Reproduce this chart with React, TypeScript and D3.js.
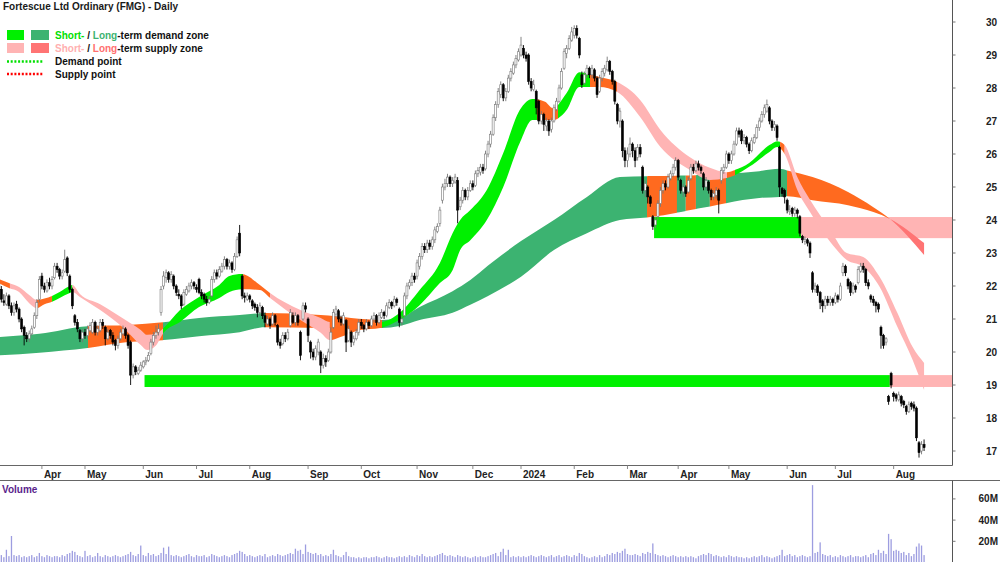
import React from "react";
import * as d3 from "d3";

// Daily candles [open, high, low, close], Mar 2023 -> Aug 2024
const candles: [number, number, number, number][] = [
  [22.05,22.15,21.8,21.9],[21.9,22.0,21.5,21.6],[21.55,21.75,21.4,21.5],[21.45,21.8,21.4,21.7],[21.7,21.75,21.3,21.4],
  [21.4,21.5,21.1,21.2],[21.2,21.5,21.1,21.4],[21.45,21.55,21.2,21.3],[21.3,21.35,20.9,21.0],[21.0,21.05,20.6,20.7],
  [20.75,20.8,20.2,20.5],[20.5,20.6,20.3,20.4],[20.4,20.65,20.3,20.55],[20.55,20.8,20.5,20.7],[20.75,21.2,20.7,21.1],
  [21.1,21.6,21.0,21.5],[21.6,22.3,21.5,22.2],[22.3,22.4,21.9,22.0],[22.0,22.1,21.8,21.9],[21.85,22.2,21.8,22.1],
  [22.1,22.25,21.9,22.0],[22.0,22.3,21.9,22.2],[22.25,22.7,22.2,22.6],[22.6,22.7,22.4,22.5],[22.5,22.55,22.2,22.3],
  [22.3,22.5,22.2,22.4],[22.45,23.1,22.4,22.8],[22.85,22.9,22.3,22.4],[22.3,22.35,21.8,21.9],[21.9,21.95,21.3,21.4],
  [21.1,21.15,20.8,20.9],[20.9,21.0,20.6,20.7],[20.65,20.7,20.3,20.4],[20.4,20.7,20.3,20.6],[20.6,20.7,20.4,20.5],
  [20.5,20.8,20.4,20.7],[20.65,20.9,20.6,20.8],[20.6,21.0,20.55,20.9],[20.9,20.95,20.5,20.6],[20.6,20.8,20.5,20.7],
  [20.65,21.0,20.6,20.9],[20.9,21.0,20.7,20.8],[20.75,20.8,20.2,20.4],[20.4,20.7,20.35,20.6],[20.65,20.7,20.4,20.5],
  [20.5,20.6,20.2,20.3],[20.35,20.4,20.05,20.2],[20.2,20.5,20.1,20.4],[20.4,20.7,20.35,20.6],[20.55,20.8,20.5,20.7],
  [20.7,20.75,20.4,20.5],[20.5,20.55,20.1,20.2],[20.3,20.35,19.0,19.3],[19.3,19.65,19.2,19.55],[19.55,19.6,19.3,19.4],
  [19.35,19.55,19.3,19.45],[19.45,19.7,19.4,19.6],[19.55,19.75,19.5,19.7],[19.7,19.85,19.6,19.75],[19.75,20.0,19.7,19.9],
  [19.95,20.4,19.9,20.3],[20.3,20.6,20.2,20.5],[20.5,20.8,20.4,20.6],[20.6,20.85,20.5,20.7],[21.2,22.0,21.1,21.9],
  [22.0,22.45,21.9,22.3],[22.25,22.5,22.1,22.4],[22.4,22.45,22.1,22.2],[22.2,22.45,22.1,22.35],[22.3,22.35,21.9,22.0],
  [22.0,22.05,21.7,21.8],[21.75,21.9,21.6,21.7],[21.7,21.75,21.3,21.4],[21.45,21.9,21.4,21.8],[21.75,22.0,21.7,21.9],
  [21.85,22.1,21.8,22.0],[22.0,22.2,21.9,22.1],[22.1,22.15,21.9,22.0],[21.95,22.05,21.8,21.9],[22.2,22.25,21.75,21.8],
  [21.8,21.9,21.6,21.7],[21.75,21.8,21.5,21.6],[21.6,21.7,21.4,21.5],[21.5,21.7,21.45,21.6],[21.7,22.3,21.65,22.2],
  [22.2,22.5,22.1,22.4],[22.4,22.5,22.2,22.3],[22.3,22.6,22.25,22.5],[22.45,22.7,22.4,22.6],[22.6,22.9,22.5,22.8],
  [22.8,22.85,22.5,22.6],[22.6,22.8,22.5,22.7],[22.7,22.75,22.4,22.5],[22.5,23.0,22.45,22.9],[22.9,23.5,22.85,23.4],
  [23.6,23.85,22.9,23.0],[22.3,22.35,21.6,21.7],[21.7,21.8,21.5,21.65],[21.6,21.8,21.55,21.7],[21.7,21.75,21.5,21.6],
  [21.55,21.6,21.3,21.4],[21.45,21.5,21.25,21.35],[21.35,21.45,21.05,21.2],[21.2,21.5,21.1,21.4],[21.35,21.4,21.0,21.1],
  [21.1,21.2,20.75,20.9],[20.85,21.1,20.8,21.0],[21.0,21.05,20.7,20.8],[20.85,21.2,20.8,21.1],[21.1,21.15,20.8,20.9],
  [20.8,20.85,20.2,20.3],[20.3,20.4,20.1,20.2],[20.25,20.6,20.2,20.5],[20.5,20.6,20.3,20.4],[20.4,20.7,20.35,20.6],
  [20.8,21.3,20.75,21.2],[21.1,21.2,20.85,20.9],[20.9,21.2,20.8,21.1],[21.1,21.15,20.8,20.9],[20.6,20.65,19.75,19.9],
  [21.0,21.5,20.95,21.4],[21.4,21.5,21.2,21.3],[21.0,21.05,20.3,20.5],[20.3,20.35,19.8,20.0],[20.0,20.1,19.75,19.85],
  [19.85,20.2,19.75,20.1],[20.0,20.4,19.9,20.3],[20.0,20.05,19.36,19.6],[19.6,19.95,19.5,19.8],[19.8,19.9,19.55,19.7],
  [19.75,20.1,19.7,20.0],[20.0,20.75,19.95,20.6],[20.75,21.3,20.7,21.2],[21.15,21.4,21.05,21.3],[21.25,21.3,20.9,21.0],
  [21.0,21.1,20.8,20.9],[20.85,21.2,20.8,21.1],[20.95,21.0,20.0,20.3],[20.35,20.8,20.3,20.7],[20.6,20.65,20.15,20.3],
  [20.3,20.5,20.2,20.4],[20.4,20.7,20.35,20.6],[20.6,21.0,20.5,20.9],[20.9,21.0,20.7,20.8],[20.8,20.85,20.6,20.7],
  [20.7,21.0,20.65,20.9],[20.9,20.95,20.7,20.8],[20.8,21.1,20.75,21.0],[21.0,21.2,20.9,21.1],[21.1,21.15,20.8,20.9],
  [20.9,21.2,20.85,21.1],[21.05,21.3,21.0,21.2],[21.2,21.25,21.0,21.1],[21.1,21.5,21.05,21.4],[21.35,21.6,21.3,21.5],
  [21.5,21.55,21.3,21.4],[21.4,21.7,21.35,21.6],[21.6,21.65,21.4,21.5],[21.3,21.35,20.75,20.9],[20.9,21.1,20.8,21.0],
  [21.1,21.8,21.05,21.7],[21.7,22.1,21.6,22.0],[22.0,22.2,21.9,22.1],[22.1,22.4,22.0,22.3],[22.3,22.4,22.1,22.2],
  [22.3,22.8,22.2,22.7],[22.6,23.0,22.5,22.9],[22.9,23.3,22.8,23.2],[23.2,23.3,23.0,23.1],[23.1,23.4,23.0,23.3],
  [23.3,23.4,23.1,23.2],[23.2,23.5,23.1,23.4],[23.4,23.8,23.3,23.7],[23.65,23.9,23.6,23.8],[23.9,24.4,23.8,24.3],
  [24.6,25.1,24.5,25.0],[25.0,25.25,24.9,25.1],[25.1,25.4,25.0,25.3],[25.3,25.35,25.0,25.1],[25.1,25.3,25.0,25.2],
  [25.15,25.4,25.1,25.3],[25.2,25.3,23.9,24.3],[24.4,24.7,24.3,24.6],[24.6,25.0,24.5,24.9],[24.9,24.95,24.6,24.7],
  [24.7,25.0,24.6,24.9],[24.9,25.2,24.85,25.1],[25.1,25.2,24.9,25.0],[25.05,25.5,25.0,25.4],[25.4,25.6,25.3,25.5],
  [25.45,25.7,25.35,25.6],[25.6,25.7,25.4,25.5],[25.55,26.1,25.5,26.0],[26.0,26.4,25.9,26.3],[26.3,26.7,26.2,26.6],
  [26.6,27.2,26.55,27.1],[27.1,27.6,27.0,27.5],[27.5,28.0,27.4,27.9],[27.8,28.2,27.7,28.1],[28.1,28.15,27.6,27.7],
  [27.7,28.0,27.6,27.9],[27.9,28.4,27.85,28.3],[28.3,28.6,28.2,28.5],[28.45,28.8,28.4,28.7],[28.7,29.0,28.6,28.9],
  [28.85,29.2,28.8,29.1],[29.0,29.55,28.95,29.3],[29.2,29.3,28.9,29.0],[29.0,29.1,28.8,28.9],[29.0,29.05,28.1,28.2],
  [28.2,28.3,27.9,28.0],[27.95,28.25,27.9,28.1],[27.9,27.95,27.2,27.4],[27.6,27.65,26.9,27.0],[27.0,27.3,26.9,27.2],
  [27.2,27.25,26.7,26.9],[26.85,27.1,26.7,27.0],[27.0,27.05,26.55,26.7],[26.75,27.1,26.65,27.0],[27.0,27.5,26.95,27.4],
  [27.35,27.7,27.3,27.6],[27.6,28.1,27.55,28.0],[28.0,28.6,27.95,28.5],[28.6,29.2,28.55,29.1],[29.05,29.3,28.9,29.2],
  [29.2,29.6,29.15,29.5],[29.45,29.85,29.4,29.7],[29.6,29.9,29.5,29.8],[29.8,29.9,29.5,29.6],[29.5,29.55,28.9,29.0],
  [28.4,28.5,28.0,28.1],[28.15,28.5,28.1,28.4],[28.4,28.7,28.3,28.6],[28.6,28.65,28.3,28.4],[28.4,28.7,28.3,28.6],
  [28.55,28.6,28.2,28.3],[28.3,28.35,27.7,27.8],[27.9,28.4,27.85,28.3],[28.3,28.6,28.2,28.5],[28.45,28.7,28.35,28.6],
  [28.55,28.95,28.5,28.8],[28.8,28.85,28.4,28.5],[28.5,28.55,28.1,28.2],[28.2,28.25,27.5,27.6],[27.5,27.55,26.9,27.0],
  [27.0,27.4,26.8,27.3],[27.0,27.05,25.9,26.1],[26.1,26.2,25.6,25.8],[25.8,26.2,25.6,26.0],[26.0,26.5,25.9,26.3],
  [26.3,26.35,25.9,26.1],[26.1,26.2,25.6,25.8],[25.9,26.3,25.8,26.2],[26.2,26.3,25.9,26.0],[25.6,25.65,24.8,24.9],
  [24.9,25.2,24.7,25.1],[25.0,25.05,24.5,24.7],[24.7,24.75,24.4,24.5],[24.1,24.15,23.7,23.8],[23.85,24.1,23.75,24.0],
  [24.1,24.6,24.0,24.5],[24.5,25.0,24.4,24.9],[24.9,25.2,24.8,25.1],[25.1,25.2,24.9,25.0],[25.0,25.4,24.95,25.3],
  [25.25,25.5,25.2,25.4],[25.4,25.7,25.3,25.6],[25.6,25.9,25.5,25.8],[25.8,25.85,25.2,25.3],[25.2,25.25,24.8,24.9],
  [24.85,25.1,24.7,25.0],[25.0,25.05,24.7,24.8],[24.85,25.3,24.8,25.2],[25.25,25.7,25.2,25.6],[25.6,25.7,25.4,25.5],
  [25.5,25.8,25.45,25.7],[25.7,25.8,25.5,25.6],[25.6,25.65,25.4,25.5],[25.4,25.45,24.9,25.0],[25.0,25.3,24.9,25.2],
  [25.15,25.2,24.8,24.9],[24.9,24.95,24.6,24.7],[24.7,24.9,24.6,24.8],[24.75,25.0,24.65,24.9],[24.9,24.95,24.2,24.6],
  [25.2,25.6,25.1,25.5],[25.5,25.7,25.4,25.6],[25.6,26.1,25.55,26.0],[26.0,26.05,25.7,25.8],[25.8,26.1,25.7,26.0],
  [26.0,26.4,25.95,26.3],[26.3,26.8,26.25,26.7],[26.7,26.8,26.5,26.6],[26.7,26.75,26.3,26.4],[26.4,26.6,26.3,26.5],
  [26.5,26.55,26.2,26.3],[26.3,26.35,26.0,26.1],[26.1,26.5,26.05,26.4],[26.35,26.6,26.3,26.5],[26.5,26.9,26.45,26.8],
  [26.8,27.1,26.7,27.0],[27.0,27.3,26.95,27.2],[27.2,27.5,27.1,27.4],[27.3,27.65,27.25,27.5],[27.4,27.45,26.9,27.0],
  [27.0,27.05,26.7,26.8],[26.8,27.0,26.7,26.9],[26.85,26.9,26.4,26.5],[26.2,26.25,24.7,25.0],[24.95,25.0,24.7,24.8],
  [24.9,24.95,24.5,24.7],[24.6,24.65,24.2,24.3],[24.25,24.45,24.15,24.3],[24.35,24.4,24.1,24.2],[24.2,24.4,24.1,24.3],
  [24.3,24.35,24.05,24.2],[24.1,24.15,23.5,23.6],[23.5,23.55,23.3,23.4],[23.35,23.5,23.25,23.4],[23.4,23.45,23.2,23.3],
  [23.3,23.35,22.85,23.0],[22.4,22.45,21.8,21.9],[21.9,22.1,21.8,22.0],[22.0,22.05,21.7,21.8],[21.8,21.85,21.3,21.5],
  [21.55,21.6,21.2,21.4],[21.4,21.7,21.3,21.6],[21.6,21.7,21.4,21.5],[21.5,21.7,21.4,21.6],[21.6,21.65,21.4,21.5],
  [21.5,21.8,21.45,21.7],[21.7,21.75,21.5,21.6],[21.6,22.1,21.55,22.0],[22.4,22.7,22.3,22.6],[22.6,22.65,22.3,22.4],
  [22.2,22.25,21.9,22.0],[22.1,22.15,21.7,21.8],[21.8,22.1,21.75,22.0],[22.0,22.05,21.8,21.9],[22.1,22.6,22.05,22.5],
  [22.45,22.7,22.4,22.6],[22.6,22.7,22.4,22.5],[22.5,22.55,22.0,22.1],[22.1,22.2,21.9,22.0],[21.7,21.75,21.5,21.6],
  [21.6,21.7,21.4,21.5],[21.5,21.55,21.2,21.4],[21.45,21.5,21.2,21.3],[20.75,20.8,20.1,20.5],[20.5,20.55,20.1,20.2],
  [20.3,20.45,20.2,20.4],[18.65,18.7,18.4,18.5],[19.35,19.4,18.9,19.0],[18.75,18.8,18.5,18.65],[18.7,18.75,18.5,18.6],
  [18.55,18.8,18.5,18.7],[18.65,18.7,18.35,18.45],[18.5,18.55,18.3,18.4],[18.35,18.4,18.1,18.2],[18.2,18.5,18.15,18.4],
  [18.45,18.5,18.25,18.35],[18.4,18.5,18.2,18.3],[18.3,18.35,17.3,17.4],[17.25,17.3,16.8,16.95],[17.0,17.3,16.9,17.2],
  [17.2,17.35,17.0,17.1],
];

// Daily volume, millions
const volumes: number[] = [
  6,7,5,12,6,25,7,6,7,5, 6,5,6,7,5,6,9,6,5,7, 6,5,6,6,5,7,6,8,9,11, 10,7,6,5,11,6,7,5,6,9,
  6,5,7,6,5,6,7,6,5,6, 7,8,10,7,6,8,16,7,6,9, 7,8,6,7,9,14,8,15,7,6, 7,6,5,6,7,8,6,5,7,6,
  6,7,5,6,8,7,6,5,6,7, 6,5,7,8,9,11,10,8,6,7, 6,5,6,7,6,8,5,6,7,6, 8,7,6,7,8,9,8,13,11,12,
  8,17,10,9,8,9,7,8,6,7, 6,8,12,7,6,5,7,10,6,5, 5,4,5,4,5,5,4,5,5,6, 5,4,5,6,5,5,4,5,6,5,
  6,5,7,6,5,7,6,8,6,5, 6,5,6,7,8,9,7,6,7,6, 5,7,6,5,6,5,4,5,6,5, 6,5,5,6,7,8,9,6,10,13,
  7,12,5,6,5,6,5,6,5,6, 7,6,5,6,7,6,5,6,7,5, 6,7,5,6,7,6,5,7,6,9, 8,6,5,4,5,6,5,7,5,6,
  8,7,9,8,10,9,11,13,8,7, 7,8,7,6,9,8,10,9,18,8, 7,6,7,6,5,6,7,6,5,6, 5,6,5,6,5,4,6,7,8,7,
  9,8,6,7,6,5,6,5,7,6, 5,6,5,5,4,5,4,5,6,5, 6,7,5,6,5,4,5,6,7,12, 6,7,8,6,7,5,6,7,6,5,
  6,73,9,10,19,8,7,6,7,5, 6,5,7,6,5,6,7,5,6,6, 5,6,7,5,8,9,7,12,9,11, 8,27,22,11,12,11,9,10,7,9,
  6,8,15,18,16,7,
];

const monthTicks: { label: string; idx: number }[] = [
  { label: "Apr", idx: 17 }, { label: "May", idx: 34 }, { label: "Jun", idx: 57 },
  { label: "Jul", idx: 78 }, { label: "Aug", idx: 99 }, { label: "Sep", idx: 122 },
  { label: "Oct", idx: 143 }, { label: "Nov", idx: 165 }, { label: "Dec", idx: 187 },
  { label: "2024", idx: 206 }, { label: "Feb", idx: 227 }, { label: "Mar", idx: 248 },
  { label: "Apr", idx: 268 }, { label: "May", idx: 288 }, { label: "Jun", idx: 311 },
  { label: "Jul", idx: 330 }, { label: "Aug", idx: 353 },
];

const priceTicks = [17, 18, 19, 20, 21, 22, 23, 24, 25, 26, 27, 28, 29, 30];
const volumeTicks = [20, 40, 60];

// Short-term zone edges [idx, lineA, lineB]
const shortBand: [number, number, number][] = [
  [0,22.21,22.09],[4,22.09,21.94],[8,21.97,21.82],[12,21.73,21.48],[15,21.58,21.33],[18,21.62,21.45],
  [21,21.7,21.52],[24,21.82,21.64],[28,22.0,21.79],[29,22.03,21.82],[32,21.76,21.67],[40,21.45,21.27],
  [50,20.97,20.67],[56,20.67,20.21],[58.5,20.52,20.06],[62,20.55,20.2],[65,20.73,20.58],[71.5,21.27,20.91],
  [79,21.67,21.36],[87,22.03,21.64],[91,22.3,21.82],[96,22.36,21.9],[103,22.03,21.88],[107,21.79,21.64],
  [119,21.27,20.97],[127,21.03,20.58],[130.5,20.91,20.36],[134.5,20.97,20.45],[142.5,20.97,20.67],
  [150.5,20.91,20.73],[158,21.18,20.97],[166,21.88,21.42],[174,22.7,22.09],[179,23.6,22.48],[182,24.0,23.09],
  [186,24.3,23.39],[192.5,24.91,24.0],[199,26.03,25.0],[205.5,27.33,26.33],[210.5,27.67,27.03],
  [215.5,27.58,27.03],[218.5,27.39,27.03],[224,27.85,27.33],[229,28.48,28.03],[237,28.33,28.03],
  [244,28.18,27.88],[253,27.64,27.12],[261,26.73,26.21],[272.5,25.91,25.52],[280.5,25.58,25.21],
  [287,25.45,25.27],[290.5,25.52,25.36],[296,25.73,25.61],[304,26.27,26.06],[307,26.39,26.21],
  [310,26.27,26.0],[315,25.3,24.91],[320,24.61,24.24],[328,23.7,23.33],[334.5,23.0,22.79],
  [341,22.88,22.58],[347.5,22.27,21.97],[354.5,21.18,20.76],[360.5,20.15,19.76],[365,19.67,18.85],
];

// Long-term zone edges [idx, lineA, lineB]
const longBand: [number, number, number][] = [
  [0,20.45,19.9],[16,20.55,19.98],[35,20.78,20.12],[51,20.82,20.3],[65,20.9,20.36],[79,21.03,20.48],
  [95,21.12,20.6],[105,21.18,20.75],[127,21.12,20.73],[151,20.97,20.73],[158,21.03,20.79],
  [166,21.36,20.97],[179,21.84,21.19],[186,22.18,21.43],[193,22.62,21.7],[206,23.36,22.28],
  [219,24.0,23.09],[232,24.7,23.6],[245,25.3,24.0],[257,25.33,24.09],[277,25.36,24.36],
  [300,25.48,24.67],[308,25.55,24.7],[311,25.5,24.72],[321,25.3,24.6],[335,24.85,24.45],
  [345,24.39,24.24],[351.6,24.03,24.03],[365,22.94,23.3],
];

// Colour segments [fromIdx, toIdx, colour key]
const shortBandColors: [number, number, string][] = [
  [0,4.4,"orange"],[4.4,15,"pink"],[15,21,"orange"],[21,29,"green"],[29,64.8,"pink"],
  [64.8,96.3,"green"],[96.3,107,"orange"],[107,130.6,"pink"],[130.6,151.2,"orange"],
  [151.2,212.3,"green"],[212.3,220.6,"orange"],[220.6,233.2,"green"],[233.2,243.9,"orange"],
  [243.9,287.3,"pink"],[287.3,290.4,"orange"],[290.4,308.2,"green"],[308.2,310,"orange"],[310,366,"pink"],
];
const longBandColors: [number, number, string][] = [
  [0,35.2,"dkgreen"],[35.2,64.8,"orange"],[64.8,105,"dkgreen"],[105,151.2,"orange"],
  [151.2,255.7,"dkgreen"],[255.7,267.5,"orange"],[267.5,271,"dkgreen"],[271,275,"orange"],
  [275,280.5,"dkgreen"],[280.5,286.9,"orange"],[286.9,310.9,"dkgreen"],[310.9,351.6,"orange"],
  [351.6,366,"salmon"],
];

// Horizontal demand zones: start idx, idx where it turns to supply, price range
const zones = [
  { start: 58, flip: 352, low: 18.94, high: 19.3 },
  { start: 259, flip: 317, low: 23.45, high: 24.09 },
];

const palette: Record<string, string> = {
  green: "#00f000",
  dkgreen: "#3cb371",
  orange: "#ff6a1f",
  pink: "#ffb4b4",
  salmon: "#ff7474",
};

const FONT = "'Liberation Sans', Arial, sans-serif";

export default function App() {
  const W = 1000, H = 562;
  const plotRight = 952.5;
  const x = d3.scaleLinear().domain([0, 365]).range([-1.2, -1.2 + 365 * 2.535]);
  const y = d3.scaleLinear().domain([17, 30]).range([451, 22]);
  const yv = d3.scaleLinear().domain([0, 60]).range([562.5, 498.9]);

  const area = d3
    .area<[number, number, number]>()
    .x((d) => x(d[0]))
    .y0((d) => y(d[1]))
    .y1((d) => y(d[2]))
    .curve(d3.curveMonotoneX);

  const shortPath = area(shortBand) || "";
  const longPath = area(longBand) || "";

  const segClip = (prefix: string, segs: [number, number, string][]) =>
    segs.map((s, k) => (
      <clipPath id={`${prefix}${k}`} key={`${prefix}${k}`}>
        <rect x={x(s[0])} y={0} width={Math.max(0, x(s[1]) - x(s[0]))} height={466} />
      </clipPath>
    ));

  return (
    <svg
      width={W}
      height={H}
      style={{ position: "fixed", left: 0, top: 0, display: "block", background: "#fff" }}
      fontFamily={FONT}
    >
      <defs>
        {segClip("lc", longBandColors)}
        {segClip("sc", shortBandColors)}
        <clipPath id="plotclip">
          <rect x={0} y={0} width={plotRight} height={465} />
        </clipPath>
      </defs>
      <rect x={0} y={0} width={W} height={H} fill="#fff" />

      {/* horizontal zones */}
      <g clipPath="url(#plotclip)">
        {zones.map((z, k) => (
          <g key={k}>
            <rect
              x={x(z.start) - 1.3}
              y={y(z.high)}
              width={x(z.flip) - 1.27 - (x(z.start) - 1.3)}
              height={y(z.low) - y(z.high)}
              fill={palette.green}
            />
            <rect
              x={x(z.flip) - 1.27}
              y={y(z.high)}
              width={plotRight - (x(z.flip) - 1.27)}
              height={y(z.low) - y(z.high)}
              fill={palette.pink}
            />
          </g>
        ))}
      </g>

      {/* long-term band */}
      {longBandColors.map((s, k) => (
        <path key={`l${k}`} d={longPath} fill={palette[s[2]]} clipPath={`url(#lc${k})`} />
      ))}
      {/* short-term band */}
      {shortBandColors.map((s, k) => (
        <path key={`s${k}`} d={shortPath} fill={palette[s[2]]} clipPath={`url(#sc${k})`} />
      ))}

      {/* candles */}
      <g>
        {candles.map((c, i) => {
          const [o, h, l, cl] = c;
          const up = cl >= o;
          const cx = x(i);
          const top = y(Math.max(o, cl));
          const bot = y(Math.min(o, cl));
          return (
            <g key={i}>
              <line x1={cx} x2={cx} y1={y(h)} y2={y(l)} stroke={up ? "#777" : "#000"} strokeWidth={0.9} />
              <rect
                x={cx - 1}
                y={top}
                width={2}
                height={Math.max(0.8, bot - top)}
                fill={up ? "#fff" : "#000"}
                stroke={up ? "#777" : "#000"}
                strokeWidth={0.6}
              />
            </g>
          );
        })}
      </g>

      {/* volume */}
      <g>
        {volumes.map((v, i) => (
          <rect key={i} x={x(i) - 0.65} y={yv(v)} width={1.3} height={yv(0) - yv(v)} fill="#9d9de0" />
        ))}
      </g>

      {/* axes lines */}
      <line x1={0} x2={plotRight} y1={465.5} y2={465.5} stroke="#666" strokeWidth={1} />
      <line x1={0} x2={W} y1={480.5} y2={480.5} stroke="#666" strokeWidth={1} />
      <line x1={plotRight} x2={plotRight} y1={0} y2={465.5} stroke="#555" strokeWidth={1} />
      <line x1={plotRight} x2={plotRight} y1={480.5} y2={H} stroke="#555" strokeWidth={1} />

      {/* month ticks */}
      {monthTicks.map((m, k) => (
        <g key={k}>
          <line x1={x(m.idx)} x2={x(m.idx)} y1={465.5} y2={469} stroke="#888" strokeWidth={1} />
          <text x={x(m.idx) + 2} y={477.5} fontSize={10} fontWeight="bold" fill="#222">
            {m.label}
          </text>
        </g>
      ))}

      {/* price ticks */}
      {priceTicks.map((p) => (
        <g key={p}>
          <line x1={plotRight} x2={plotRight + 3} y1={y(p)} y2={y(p)} stroke="#777" />
          <text x={997} y={y(p) + 3.5} fontSize={10} fontWeight="bold" textAnchor="end" fill="#222">
            {p}
          </text>
        </g>
      ))}

      {/* volume ticks */}
      {volumeTicks.map((v) => (
        <g key={v}>
          <line x1={plotRight} x2={plotRight + 3} y1={yv(v)} y2={yv(v)} stroke="#777" />
          <text x={998} y={yv(v) + 3.5} fontSize={10} fontWeight="bold" textAnchor="end" fill="#222">
            {v}M
          </text>
        </g>
      ))}

      <text x={2} y={493} fontSize={10} fontWeight="bold" fill="#5a1f8c">
        Volume
      </text>

      {/* title & legend */}
      <text x={3} y={10} fontSize={10} fontWeight="bold" fill="#1a1a1a">
        Fortescue Ltd Ordinary (FMG) - Daily
      </text>
      <rect x={7} y={30} width={17} height={10} fill={palette.green} />
      <rect x={31} y={30} width={18} height={10} fill={palette.dkgreen} />
      <text x={55} y={38.5} fontSize={10} fontWeight="bold" fill="#111">
        <tspan fill="#00e000">Short-</tspan>
        <tspan> / </tspan>
        <tspan fill="#3cb371">Long</tspan>
        <tspan>-term demand zone</tspan>
      </text>
      <rect x={7} y={43} width={17} height={10} fill={palette.pink} />
      <rect x={31} y={43} width={18} height={10} fill={palette.salmon} />
      <text x={55} y={51.5} fontSize={10} fontWeight="bold" fill="#111">
        <tspan fill="#ffb0b0">Short-</tspan>
        <tspan> / </tspan>
        <tspan fill="#ff6f6f">Long</tspan>
        <tspan>-term supply zone</tspan>
      </text>
      <line x1={7} x2={44} y1={61.5} y2={61.5} stroke="#00e000" strokeWidth={2.5} strokeDasharray="2 1.7" />
      <text x={55} y={65} fontSize={10} fontWeight="bold" fill="#111">
        Demand point
      </text>
      <line x1={7} x2={44} y1={74} y2={74} stroke="#ff0000" strokeWidth={2.5} strokeDasharray="2 1.7" />
      <text x={55} y={77.5} fontSize={10} fontWeight="bold" fill="#111">
        Supply point
      </text>
    </svg>
  );
}
